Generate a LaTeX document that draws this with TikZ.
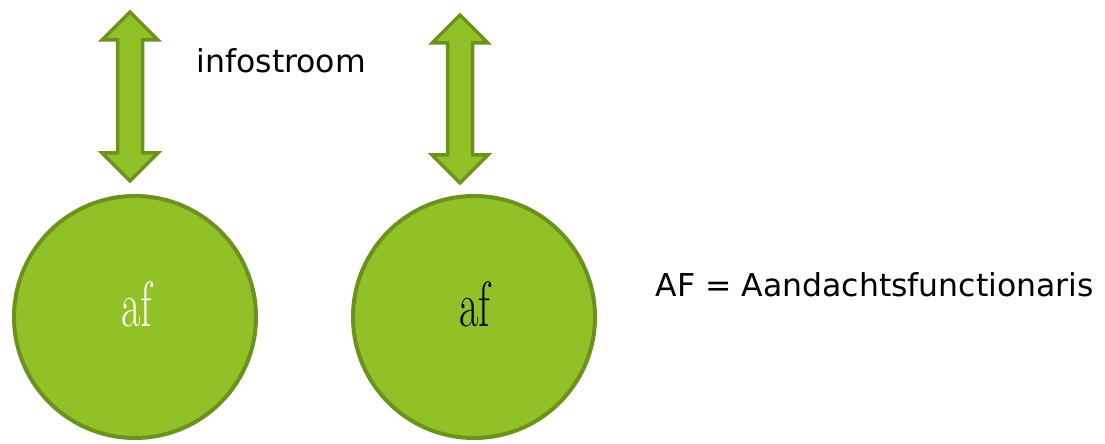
\documentclass[tikz,border=0pt]{standalone}
\usepackage{fontspec}
\usepackage{tikz}
\usetikzlibrary{positioning}
\newfontfamily\labelfont{DejaVu Sans}
\newfontfamily\affont[FakeStretch=0.66]{Latin Modern Roman}
\definecolor{leaf}{RGB}{145,193,38}
\definecolor{leafdark}{RGB}{108,146,30}

\begin{document}
\begin{tikzpicture}[x=1pt, y=1pt,
    afcircle/.style={circle, fill=leaf, draw=leafdark, line width=4pt, minimum size=242pt, inner sep=0pt},
    flowarrow/.style={fill=leaf, draw=leafdark, line width=3.5pt, line join=miter},
    aftext/.style={anchor=base, font=\affont\fontsize{64}{68}\selectfont},
    sidetext/.style={anchor=base west, font=\labelfont\fontsize{31.5}{38}\selectfont}]

    \useasboundingbox (0,0) rectangle (1105,444);

    % =====================================================
    % CIRCLES (AF)
    % =====================================================
    \node[afcircle] (af1) at (135,127) {};
    \node[afcircle] (af2) at (474,127) {};

    \node[aftext, white] (aflabel1) at (137,117) {af};
    \node[aftext, black] (aflabel2) at (475,117) {af};

    % =====================================================
    % INFO FLOW ARROWS
    % =====================================================
    % centre x / top tip / bottom tip
    \foreach \cx/\ytop/\ybot in {130/432/263, 460/429/261} {
        \draw[flowarrow] (\cx,\ytop) -- (\cx+28,\ytop-28) -- (\cx+12.5,\ytop-28)
            -- (\cx+12.5,\ybot+28) -- (\cx+28,\ybot+28) -- (\cx,\ybot)
            -- (\cx-28,\ybot+28) -- (\cx-12.5,\ybot+28) -- (\cx-12.5,\ytop-28)
            -- (\cx-28,\ytop-28) -- cycle;
    }

    % Labels
    \node[sidetext] (flow) at (193,371) {infostroom};
    \node[sidetext] (legend) at (652,147) {AF = Aandachtsfunctionaris};

\end{tikzpicture}
\end{document}
